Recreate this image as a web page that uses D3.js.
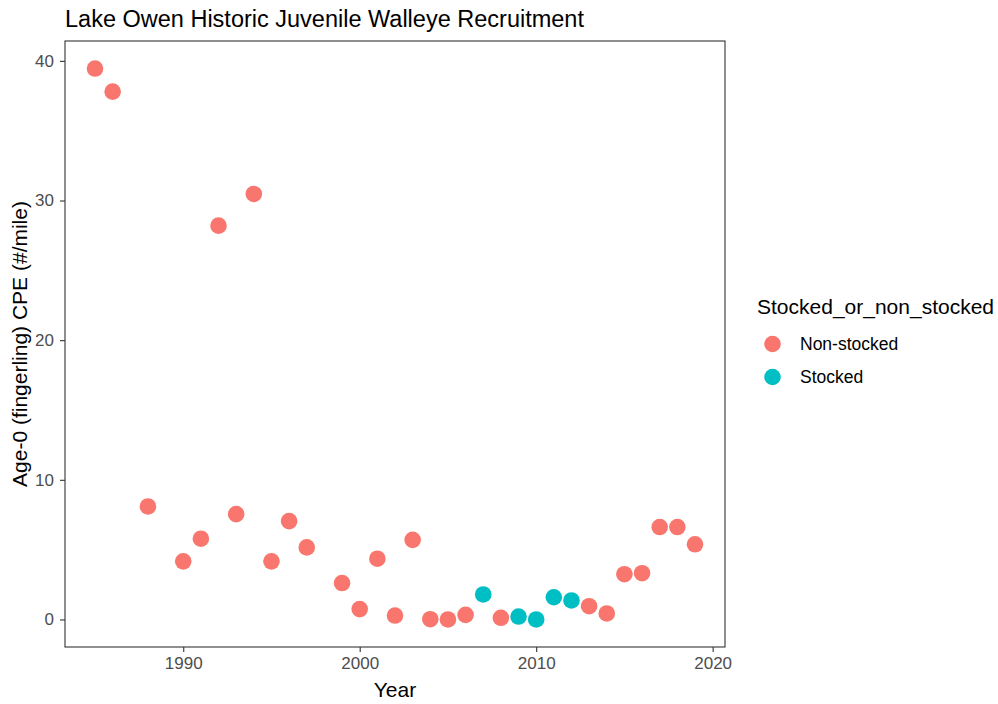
<!DOCTYPE html>
<html>
<head>
<meta charset="utf-8">
<script src="https://cdn.jsdelivr.net/npm/d3@7"></script>
<style>
  html, body { margin: 0; padding: 0; background: #fff; }
  svg { display: block; font-family: Arial, "Liberation Sans", sans-serif; }
</style>
</head>
<body>
<svg id="chart" width="998" height="704"></svg>
<script>
// Age-0 walleye catch per effort by survey year
const years = [1985, 1986, 1988, 1990, 1991, 1992, 1993, 1994, 1995, 1996, 1997, 1999, 2000,
  2001, 2002, 2003, 2004, 2005, 2006, 2007, 2008, 2009, 2010, 2011, 2012, 2013, 2014,
  2015, 2016, 2017, 2018, 2019];
const cpe = [39.45, 37.8, 8.09, 4.16, 5.78, 28.2, 7.54, 30.47, 4.16, 7.04, 5.16, 2.61, 0.74,
  4.35, 0.28, 5.7, 0.02, 0.0, 0.33, 1.79, 0.12, 0.21, 0.0, 1.59, 1.36, 0.95, 0.43,
  3.24, 3.31, 6.62, 6.62, 5.38];
const status = ["Non-stocked", "Non-stocked", "Non-stocked", "Non-stocked", "Non-stocked",
  "Non-stocked", "Non-stocked", "Non-stocked", "Non-stocked", "Non-stocked", "Non-stocked",
  "Non-stocked", "Non-stocked", "Non-stocked", "Non-stocked", "Non-stocked", "Non-stocked",
  "Non-stocked", "Non-stocked", "Stocked", "Non-stocked", "Stocked", "Stocked", "Stocked",
  "Stocked", "Non-stocked", "Non-stocked", "Non-stocked", "Non-stocked", "Non-stocked",
  "Non-stocked", "Non-stocked"];
const groups = ["Non-stocked", "Stocked"];
const groupColors = ["#F8766D", "#00BFC4"];
const xTicks = [1990, 2000, 2010, 2020];
const yTicks = [0, 10, 20, 30, 40];

const data = years.map((y, i) => ({ year: y, value: cpe[i], group: status[i] }));

const svg = d3.select("#chart");
const panel = { left: 65, top: 41, right: 725, bottom: 647 };

// ggplot-style 5% padding around the data range
const xExt = d3.extent(years), yExt = d3.extent(cpe);
const xPad = (xExt[1] - xExt[0]) * 0.05, yPad = (yExt[1] - yExt[0]) * 0.05;
const x = d3.scaleLinear().domain([xExt[0] - xPad, xExt[1] + xPad]).range([panel.left, panel.right]);
const y = d3.scaleLinear().domain([yExt[0] - yPad, yExt[1] + yPad]).range([panel.bottom, panel.top]);
const color = d3.scaleOrdinal().domain(groups).range(groupColors);

// panel border
svg.append("rect")
  .attr("x", panel.left).attr("y", panel.top)
  .attr("width", panel.right - panel.left).attr("height", panel.bottom - panel.top)
  .attr("fill", "none").attr("stroke", "#333").attr("stroke-width", 1.1);

// axes
const xAxis = svg.append("g").attr("transform", `translate(0,${panel.bottom})`)
  .call(d3.axisBottom(x).tickValues(xTicks).tickFormat(d3.format("d")).tickSize(5).tickPadding(5));
const yAxis = svg.append("g").attr("transform", `translate(${panel.left},0)`)
  .call(d3.axisLeft(y).tickValues(yTicks).tickSize(5).tickPadding(6));
[xAxis, yAxis].forEach(g => {
  g.select(".domain").remove();
  g.selectAll(".tick line").attr("stroke", "#333").attr("stroke-width", 1.1);
  g.selectAll(".tick text").attr("fill", "#4D4D4D").style("font-size", "17px")
    .style("font-family", "Arial, 'Liberation Sans', sans-serif");
});

// points
svg.append("g").selectAll("circle").data(data).join("circle")
  .attr("cx", d => x(d.year)).attr("cy", d => y(d.value))
  .attr("r", 8.3).attr("fill", d => color(d.group));

// titles
svg.append("text").attr("x", panel.left).attr("y", 27)
  .style("font-size", "23.5px").attr("fill", "#000")
  .text("Lake Owen Historic Juvenile Walleye Recruitment");
svg.append("text").attr("x", (panel.left + panel.right) / 2).attr("y", 697)
  .attr("text-anchor", "middle").style("font-size", "21px").attr("fill", "#000").text("Year");
svg.append("text")
  .attr("transform", `translate(27,${(panel.top + panel.bottom) / 2}) rotate(-90)`)
  .attr("text-anchor", "middle").style("font-size", "21px").attr("fill", "#000")
  .text("Age-0 (fingerling) CPE (#/mile)");

// legend
const legend = svg.append("g").attr("transform", "translate(757,0)");
legend.append("text").attr("x", 0).attr("y", 314).style("font-size", "21px").attr("fill", "#000")
  .text("Stocked_or_non_stocked");
const items = legend.selectAll("g.item").data(groups).join("g")
  .attr("class", "item")
  .attr("transform", (d, i) => `translate(0,${344 + i * 33})`);
items.append("circle").attr("cx", 15.5).attr("cy", 0).attr("r", 8.3).attr("fill", d => color(d));
items.append("text").attr("x", 43).attr("y", 0).attr("dy", "0.35em")
  .style("font-size", "17.5px").attr("fill", "#000").text(d => d);
</script>
</body>
</html>
